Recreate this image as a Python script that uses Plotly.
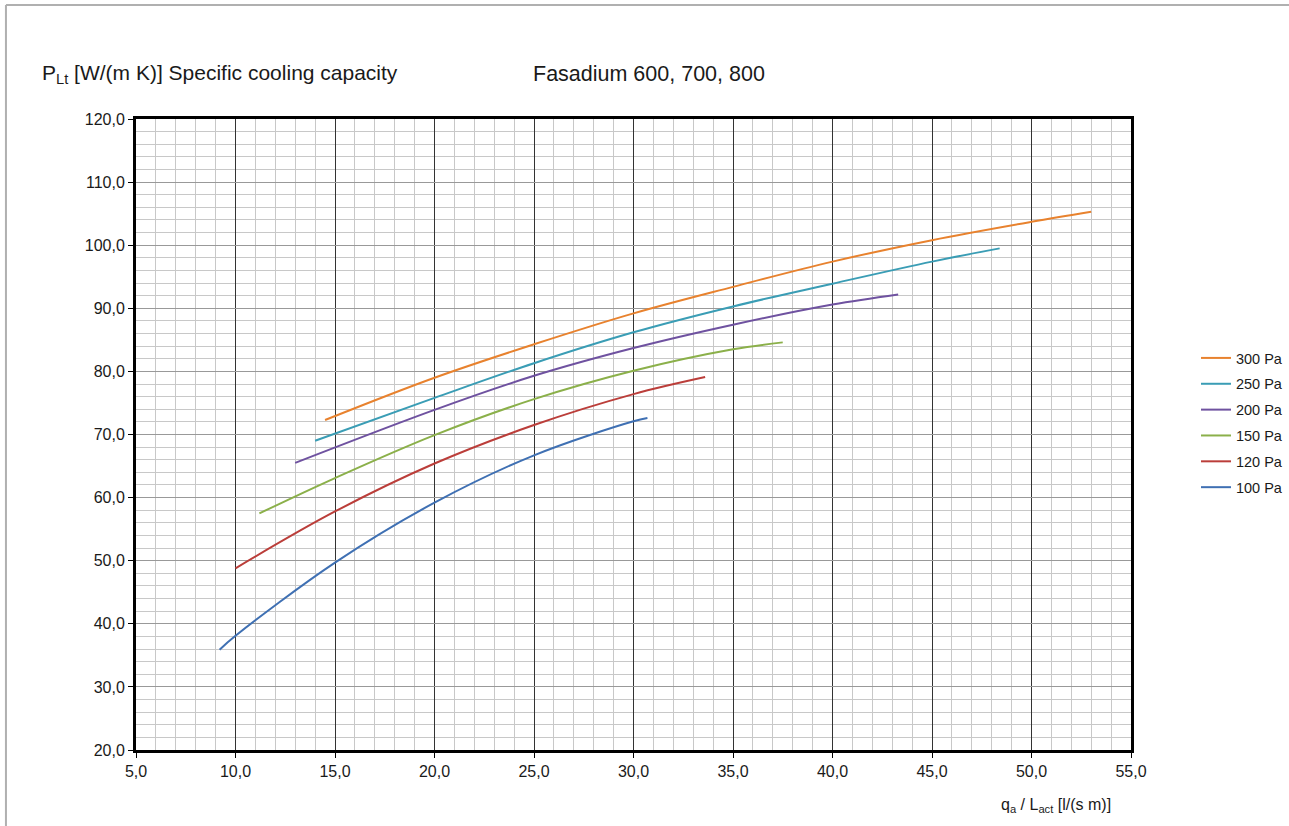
import plotly.graph_objects as go

# Specific cooling capacity curves, one per static pressure
x_300 = [14.5, 20.0, 25.0, 30.0, 35.0, 40.0, 45.0, 50.0, 53.0]
y_300 = [72.3, 79.0, 84.3, 89.2, 93.4, 97.4, 100.8, 103.7, 105.3]

x_250 = [14.0, 20.0, 25.0, 30.0, 35.0, 40.0, 45.0, 48.4]
y_250 = [69.0, 75.8, 81.3, 86.2, 90.3, 93.9, 97.4, 99.5]

x_200 = [13.0, 20.0, 25.0, 30.0, 35.0, 40.0, 43.3]
y_200 = [65.5, 73.9, 79.3, 83.7, 87.4, 90.6, 92.2]

x_150 = [11.2, 15.0, 20.0, 25.0, 30.0, 35.0, 37.5]
y_150 = [57.5, 63.1, 69.9, 75.6, 80.1, 83.5, 84.6]

x_120 = [10.0, 15.0, 20.0, 25.0, 30.0, 33.6]
y_120 = [48.8, 57.8, 65.4, 71.5, 76.4, 79.1]

x_100 = [9.2, 10.0, 15.0, 20.0, 25.0, 30.0, 30.7]
y_100 = [35.9, 38.1, 49.7, 59.2, 66.7, 72.1, 72.6]

series = [
    ("300 Pa", x_300, y_300, "#e8822e"),
    ("250 Pa", x_250, y_250, "#3a9db5"),
    ("200 Pa", x_200, y_200, "#6f52a0"),
    ("150 Pa", x_150, y_150, "#8bb04a"),
    ("120 Pa", x_120, y_120, "#bb3e3a"),
    ("100 Pa", x_100, y_100, "#3f70b3"),
]

fig = go.Figure()
for name, xs, ys, col in series:
    fig.add_trace(go.Scatter(
        x=xs, y=ys, name=name, mode="lines", legendgroup=name,
        line=dict(color=col, width=2, shape="spline", smoothing=1.0),
    ))

font = "Liberation Sans, Arial, sans-serif"

fig.update_layout(
    width=1289, height=826,
    margin=dict(l=136, r=158, t=119, b=76, autoexpand=False),
    paper_bgcolor="white", plot_bgcolor="white",
    separators=",.",
    font=dict(family=font, size=16, color="#1a1a1a"),
    showlegend=True,
    legend=dict(
        x=1.0653, y=0.6466, xanchor="left", yanchor="top",
        font=dict(size=14.5, color="#1a1a1a"),
        itemwidth=30, tracegroupgap=4,
        bgcolor="rgba(0,0,0,0)",
    ),
    xaxis=dict(
        range=[5, 55], dtick=5, tick0=5, tickformat=".1f",
        tickfont=dict(size=16),
        showgrid=True, gridcolor="#333333", gridwidth=1,
        minor=dict(dtick=1, showgrid=True, gridcolor="#c8c8c8", gridwidth=1),
        showline=True, linecolor="black", linewidth=3, mirror=True,
        ticks="outside", ticklen=5, tickcolor="black",
        zeroline=False,
    ),
    yaxis=dict(
        range=[20, 120], dtick=10, tick0=20, tickformat=".1f",
        tickfont=dict(size=16),
        showgrid=True, gridcolor="#999999", gridwidth=1,
        minor=dict(dtick=2, showgrid=True, gridcolor="#c8c8c8", gridwidth=1),
        showline=True, linecolor="black", linewidth=3, mirror=True,
        ticks="outside", ticklen=5, tickcolor="black",
        zeroline=False,
    ),
)

# Axis captions and chart heading
fig.add_annotation(
    xref="paper", yref="paper", x=-0.096, y=1.071, xanchor="left", yanchor="middle",
    text="P<sub>Lt</sub> [W/(m K)] Specific cooling capacity", showarrow=False,
    font=dict(size=21, color="#1a1a1a"),
)
fig.add_annotation(
    xref="paper", yref="paper", x=0.397, y=1.071, xanchor="left", yanchor="middle",
    text="Fasadium 600, 700, 800", showarrow=False,
    font=dict(size=21.5, color="#1a1a1a"),
)
fig.add_annotation(
    xref="paper", yref="paper", x=0.982, y=-0.088, xanchor="right", yanchor="middle",
    text="q<sub>a</sub> / L<sub>act</sub> [l/(s m)]", showarrow=False,
    font=dict(size=16, color="#1a1a1a"),
)

# Thin frame around the drawing
fig.add_shape(type="line", xref="paper", yref="paper",
              x0=-0.1307, y0=1.1807, x1=1.159, y1=1.1807,
              line=dict(color="#b0b0b0", width=2))
fig.add_shape(type="line", xref="paper", yref="paper",
              x0=-0.1307, y0=1.1807, x1=-0.1307, y1=-0.121,
              line=dict(color="#b0b0b0", width=2))

fig.write_html("out.html")
